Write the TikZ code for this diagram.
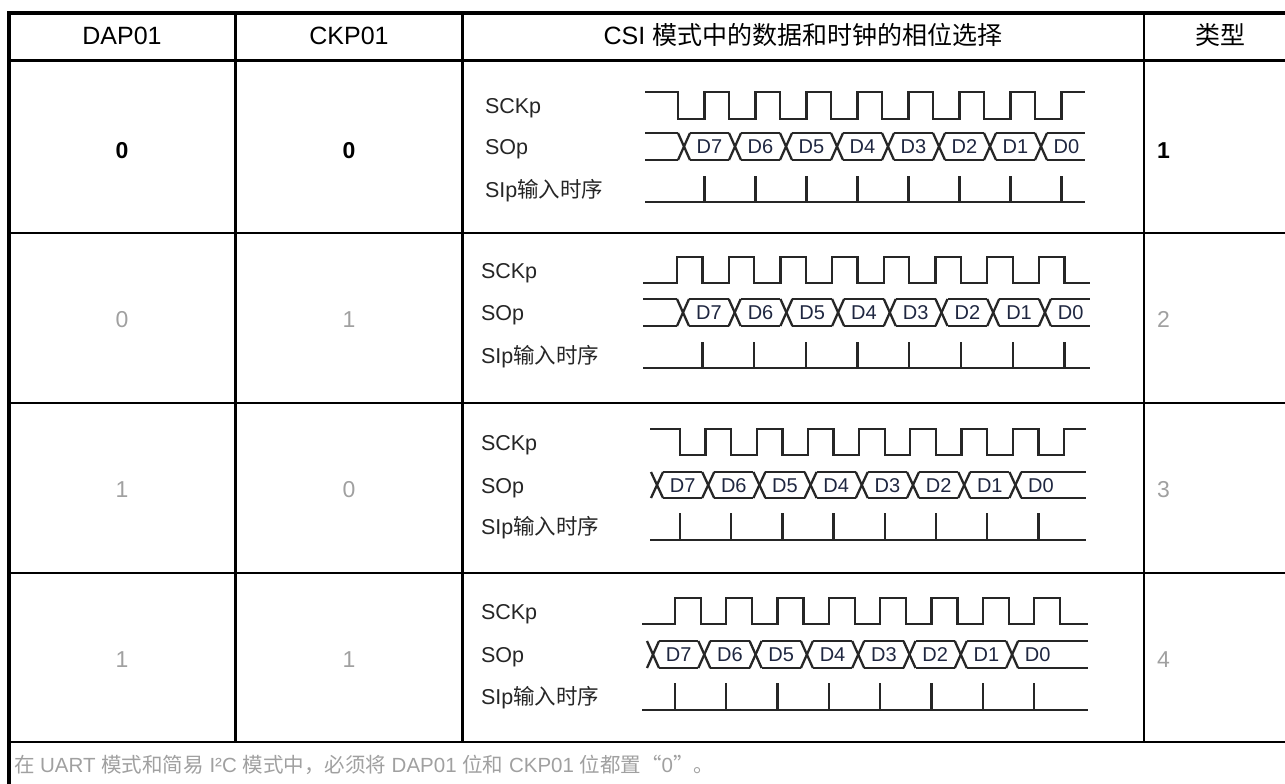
\documentclass[tikz,border=0pt]{standalone}
\usepackage{fontspec}
\setmainfont{Liberation Sans}
\newfontfamily\cjk{Noto Sans CJK SC}
\definecolor{lgray}{RGB}{160,160,160}
\definecolor{wavec}{RGB}{38,38,38}
\definecolor{dtext}{RGB}{30,38,64}
\newcommand\fsz[1]{\fontsize{#1}{#1}\selectfont}

% waveform row drawer: uses \wvR (row id) and the \wv... parameters
\newcommand\drawwaverow{%
  \ifnum\wvInit=1 \edef\wvA{\wvHi}\edef\wvBv{\wvLo}\else\edef\wvA{\wvLo}\edef\wvBv{\wvHi}\fi
  % clock
  \draw[wave] (\wvS,\wvA) \foreach \k in {0,...,7}{ -- ({\wvC+\k*\wvP},\wvA) -- ({\wvC+\k*\wvP},\wvBv) -- ({\wvC+\k*\wvP+\wvHw},\wvBv) -- ({\wvC+\k*\wvP+\wvHw},\wvA) } -- (\wvE,\wvA);
  % data
  \pgfmathsetmacro\wvYm{(\wvYt+\wvYb)/2+0.5}
  \ifnum\wvPre=1
    \draw[wave] (\wvS,\wvYt) -- ({\wvXo-\wvW},\wvYt);
    \draw[wave] (\wvS,\wvYb) -- ({\wvXo-\wvW},\wvYb);
  \fi
  \foreach \k in {0,...,7}{
    \pgfmathsetmacro\xc{\wvXo+\k*\wvP}
    \pgfmathtruncatemacro\dn{7-\k}
    \draw[wave] ({\xc-\wvW},\wvYt) -- ({\xc+\wvW},\wvYb);
    \draw[wave] ({\xc-\wvW},\wvYb) -- ({\xc+\wvW},\wvYt);
    \ifnum\k<7
      \draw[wave] ({\xc+\wvW},\wvYt) -- ({\xc+\wvP-\wvW},\wvYt);
      \draw[wave] ({\xc+\wvW},\wvYb) -- ({\xc+\wvP-\wvW},\wvYb);
    \fi
    \node[dlab] (r\wvR d\dn) at ({\xc+\wvP/2},\wvYm) {D\dn};
  }
  \draw[wave] ({\wvXo+7*\wvP+\wvW},\wvYt) -- (\wvE,\wvYt);
  \draw[wave] ({\wvXo+7*\wvP+\wvW},\wvYb) -- (\wvE,\wvYb);
  % input timing
  \draw[wave] (\wvS,\wvB) -- (\wvE,\wvB);
  \foreach \k in {0,...,7}{
    \draw[wave] ({\wvTo+\k*\wvP},\wvB) -- ({\wvTo+\k*\wvP},\wvTt);
  }
  % labels
  \pgfmathsetmacro\la{(\wvHi+\wvLo)/2+8}
  \pgfmathsetmacro\lb{(\wvYt+\wvYb)/2+8}
  \pgfmathsetmacro\lc{(\wvB+\wvTt)/2+8}
  \node[lab] (r\wvR sck) at (\wvLx,\la) {SCKp};
  \node[lab] (r\wvR so) at (\wvLx,\lb) {SOp};
  \node[lab] (r\wvR si) at (\wvLx,\lc) {SIp{\cjk 输入时序}};
}

\begin{document}
\begin{tikzpicture}[x=1pt,y=-1pt,
  wave/.style={draw=wavec, line width=2.3pt, line join=miter, line cap=butt},
  txt/.style={inner sep=0pt, outer sep=0pt},
  hdr/.style={txt, font=\fsz{25}, anchor=base},
  valb/.style={txt, font=\fsz{23}\bfseries, anchor=base},
  valg/.style={txt, font=\fsz{23}, text=lgray, anchor=base},
  lab/.style={txt, font=\fsz{21.5}, text=wavec, anchor=base west},
  dlab/.style={txt, font=\fsz{20}, text=dtext, anchor=center},
  thickline/.style={draw=black, line width=3.8pt},
  thinline/.style={draw=black, line width=2.2pt},
]
\useasboundingbox (0,0) rectangle (1285,784);

% ---- table grid ----
\draw[thickline] (9,11.2) -- (9,790);
\draw[thickline] (7.1,13) -- (1290,13);
\draw[thickline] (9,60.5) -- (1290,60.5);
\foreach \yy in {233,403,573}{ \draw[thinline] (9,\yy) -- (1290,\yy); }
\draw[thinline] (9,742) -- (1290,742);
\foreach \xx in {235.5,462.5,1144}{ \draw[thinline] (\xx,13) -- (\xx,742); }

% ---- header ----
\node[hdr] (hdap) at (122,45) {DAP01};
\node[hdr] (hckp) at (349,45) {CKP01};
\node[hdr] (hcsi) at (803,45) {CSI {\cjk 模式中的数据和时钟的相位选择}};
\node[hdr] (htyp) at (1220,45) {\cjk 类型};

% ---- values ----
\node[valb] (v1a) at (122,158) {0};
\node[valb] (v1b) at (349,158) {0};
\node[valb, anchor=base west] (v1t) at (1157,158) {1};
\node[valg] (v2a) at (122,327) {0};
\node[valg] (v2b) at (349,327) {1};
\node[valg, anchor=base west] (v2t) at (1157,327) {2};
\node[valg] (v3a) at (122,497) {1};
\node[valg] (v3b) at (349,497) {0};
\node[valg, anchor=base west] (v3t) at (1157,497) {3};
\node[valg] (v4a) at (122,667) {1};
\node[valg] (v4b) at (349,667) {1};
\node[valg, anchor=base west] (v4t) at (1157,667) {4};

% ---- waveforms ----
\def\wvW{6}
% type 1
\def\wvR{1}\def\wvHi{92}\def\wvLo{119}\def\wvS{645}\def\wvE{1085}\def\wvC{678}\def\wvP{51}\def\wvHw{26.5}\def\wvInit{1}
\def\wvXo{684}\def\wvYt{133}\def\wvYb{160}\def\wvB{202}\def\wvTt{176}\def\wvTo{704.5}\def\wvPre{1}\def\wvLx{485}
\drawwaverow
% type 2
\def\wvR{2}\def\wvHi{257}\def\wvLo{283}\def\wvS{643}\def\wvE{1090}\def\wvC{677}\def\wvP{51.7}\def\wvHw{25.5}\def\wvInit{0}
\def\wvXo{683}\def\wvYt{299}\def\wvYb{326}\def\wvB{368}\def\wvTt{342}\def\wvTo{702.5}\def\wvPre{1}\def\wvLx{481}
\drawwaverow
% type 3
\def\wvR{3}\def\wvHi{429}\def\wvLo{455}\def\wvS{650}\def\wvE{1086}\def\wvC{680}\def\wvP{51.2}\def\wvHw{25.5}\def\wvInit{1}
\def\wvXo{657}\def\wvYt{472}\def\wvYb{498}\def\wvB{540}\def\wvTt{513}\def\wvTo{680}\def\wvPre{0}\def\wvLx{481}
\drawwaverow
% type 4
\def\wvR{4}\def\wvHi{598}\def\wvLo{624}\def\wvS{642}\def\wvE{1088}\def\wvC{675}\def\wvP{51.3}\def\wvHw{26}\def\wvInit{0}
\def\wvXo{653}\def\wvYt{641}\def\wvYb{668}\def\wvB{710}\def\wvTt{683}\def\wvTo{675}\def\wvPre{0}\def\wvLx{481}
\drawwaverow

% ---- footer ----
\node[txt, font=\fsz{20.5}, text=lgray, anchor=base west] (foot) at (14,772)
  {{\cjk 在} UART {\cjk 模式和简易} I²C {\cjk 模式中，必须将} DAP01 {\cjk 位和} CKP01 {\cjk 位都置“}0{\cjk ”。}};
\end{tikzpicture}
\end{document}
